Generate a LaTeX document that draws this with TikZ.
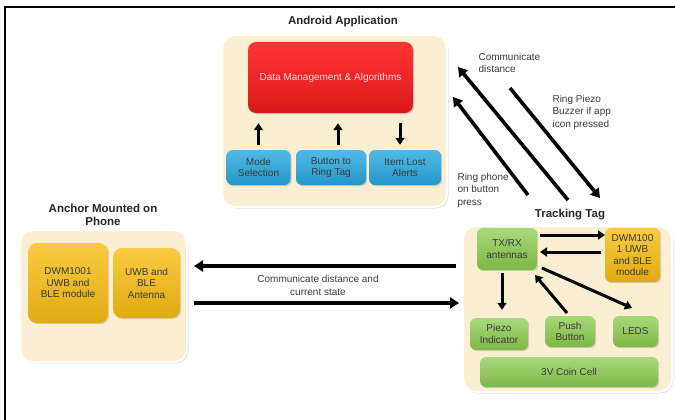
\documentclass[tikz,border=0pt]{standalone}
\usepackage{fontspec}
\setmainfont{Liberation Sans}
\usetikzlibrary{arrows.meta,shadows,calc}
\definecolor{beige}{HTML}{FAEFD3}
\definecolor{redbox}{HTML}{FF1E1E}
\definecolor{bluebox}{HTML}{27A8E0}
\definecolor{greenbox}{HTML}{8CCB4E}
\definecolor{orangebox}{HTML}{F8BE12}
\definecolor{txt}{HTML}{3A3A3A}
\tikzset{
  outer/.style={rounded corners=13pt, fill=beige, draw=white, line width=2pt,
    drop shadow={shadow xshift=1.5pt, shadow yshift=-1.5pt, opacity=0.25}},
  inner/.style={rounded corners=6pt, draw=none, text=txt, align=center,
    font=\fontsize{10}{11.5}\selectfont, inner sep=1pt,
    drop shadow={shadow xshift=1.2pt, shadow yshift=-1.2pt, opacity=0.3}},
  gbox/.style={inner, top color=greenbox!75!white, bottom color=greenbox!90!black},
  obox/.style={inner, top color=orangebox!80!white, bottom color=orangebox!90!black},
  bbox/.style={inner, top color=bluebox!80!white, bottom color=bluebox!90!black},
  ttl/.style={font=\bfseries\fontsize{11.5}{13}\selectfont, align=center, text=black!85},
  lbl/.style={font=\fontsize{10}{12.5}\selectfont, text=txt},
  bigarr/.style={line width=3.6pt, -{Triangle[length=9pt,width=11pt]}},
  smarr/.style={line width=3pt, -{Triangle[length=7pt,width=9pt]}},
}
\begin{document}
\begin{tikzpicture}[x=1pt,y=-1pt]
\useasboundingbox (0,0) rectangle (675,420);
\fill[white] (0,0) rectangle (675,420);
% frame
\draw[line width=2.2pt] (675,7) -- (5,7) -- (5,420);

% Android application
\node[ttl] (andt) at (343,22) {Android Application};
\node[outer, minimum width=225pt, minimum height=172pt] (and) at (334.5,121) {};
\node[inner, rounded corners=8pt, top color=redbox!90!white, bottom color=redbox!85!black,
  text=red!15!white, minimum width=165pt, minimum height=71pt] (dm) at (330.5,77.5)
  {Data Management \& Algorithms};
\node[bbox, minimum width=64pt, minimum height=35pt] (mode) at (258.5,167.5) {Mode\\Selection};
\node[bbox, minimum width=70pt, minimum height=35pt] (btn) at (331,167.5) {Button to\\Ring Tag};
\node[bbox, minimum width=72pt, minimum height=35pt] (alert) at (405,167.5) {Item Lost\\Alerts};
\draw[smarr, shorten <=5pt, shorten >=10pt] (mode.north) -- (mode.north |- dm.south);
\draw[smarr, shorten <=5pt, shorten >=10pt] ([xshift=7pt]btn.north) -- ([xshift=7pt]btn.north |- dm.south);
\draw[smarr, shorten <=10pt, shorten >=5pt] ([xshift=-5pt]alert.north |- dm.south) -- ([xshift=-5pt]alert.north);

% Anchor
\node[ttl] (anct) at (103,215) {Anchor Mounted on\\Phone};
\node[outer, minimum width=167pt, minimum height=132pt] (anc) at (103.5,296) {};
\node[obox, minimum width=80pt, minimum height=80pt, rounded corners=9pt] (dwma) at (68,283) {DWM1001\\UWB and\\BLE module};
\node[obox, minimum width=67pt, minimum height=70pt, rounded corners=9pt] (anta) at (146.5,283) {UWB and\\BLE\\Antenna};

% Tracking tag
\node[ttl] (tagt) at (570,215) {Tracking Tag};
\node[outer, minimum width=209pt, minimum height=166pt] (tag) at (567.5,309) {};
\node[gbox, minimum width=60pt, minimum height=42pt] (txrx) at (507,249) {TX/RX\\antennas};
\node[obox, minimum width=55pt, minimum height=54pt] (dwmt) at (632.5,255) {DWM100\\1 UWB\\and BLE\\module};
\node[gbox, minimum width=58pt, minimum height=32pt] (piezo) at (499,334) {Piezo\\Indicator};
\node[gbox, minimum width=50pt, minimum height=31pt] (push) at (570,331.5) {Push\\Button};
\node[gbox, minimum width=45pt, minimum height=31pt] (leds) at (635.5,331.5) {LEDS};
\node[gbox, minimum width=178pt, minimum height=30pt] (coin) at (569,372) {3V Coin Cell};

\coordinate (t1t) at (540,235); \coordinate (t1h) at (605,235);
\coordinate (t2t) at (601,252); \coordinate (t2h) at (540,252);
\draw[smarr] (t1t) -- (t1h);
\draw[smarr] (t2t) -- (t2h);
\draw[smarr, shorten <=3pt, shorten >=8pt] (txrx.south -| piezo.north) ++(3pt,0) -- ([xshift=3pt]piezo.north);
\coordinate (pushtail) at (567,313);
\coordinate (pushhead) at (535,275);
\draw[smarr] (pushtail) -- (pushhead);
\coordinate (ledtail) at (542,268);
\coordinate (ledhead) at (632,308);
\draw[smarr] (ledtail) -- (ledhead);

% diagonal arrows
\coordinate (c1t) at (568,200); \coordinate (c1h) at (458,67);
\coordinate (c2t) at (528,195); \coordinate (c2h) at (453,97);
\coordinate (c3t) at (510,88);  \coordinate (c3h) at (600,198);
\draw[bigarr] (c1t) -- (c1h);
\draw[bigarr] (c2t) -- (c2h);
\draw[bigarr] (c3t) -- (c3h);
\node[lbl, align=left, anchor=west] (l1) at (475,63) {Communicate\\distance};
\node[lbl, align=left, anchor=west] (l2) at (549,112) {Ring Piezo\\Buzzer if app\\icon pressed};
\node[lbl, align=left, anchor=west] (l3) at (454,190) {Ring phone\\on button\\press};

% horizontal arrows
\coordinate (ha1t) at (456,266); \coordinate (ha1h) at (194,266);
\coordinate (ha2t) at (194,303); \coordinate (ha2h) at (459,303);
\draw[bigarr] (ha1t) -- (ha1h);
\draw[bigarr] (ha2t) -- (ha2h);
\node[lbl, align=center] (l4) at (318,285.5) {Communicate distance and\\current state};
\end{tikzpicture}
\end{document}
